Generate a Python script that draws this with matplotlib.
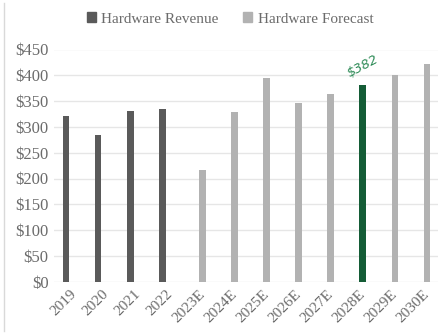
import matplotlib
matplotlib.use("Agg")
import matplotlib.pyplot as plt
import numpy as np
from matplotlib.lines import Line2D
from matplotlib.patches import Patch

years = ["2019", "2020", "2021", "2022", "2023E", "2024E", "2025E",
         "2026E", "2027E", "2028E", "2029E", "2030E"]
revenue = [322, 284, 330, 334, None, None, None, None, None, None, None, None]
forecast = [None, None, None, None, 217, 328, 394, 346, 363, 382, 401, 421]
highlight_year = "2028E"
highlight_label = "$382"
y_ticks = [0, 50, 100, 150, 200, 250, 300, 350, 400, 450]

rev_color = "#5a5a5a"
fc_color = "#b2b2b2"
hl_color = "#145c36"
text_color = "#6b6b6b"

plt.rcParams["font.family"] = ["Liberation Serif", "DejaVu Serif"]

fig = plt.figure(figsize=(4.39, 3.34), dpi=100)
ax = fig.add_axes([54 / 439, 1 - 281.7 / 334, (439 - 54) / 439, (281.7 - 49.5) / 334])

x = np.arange(len(years))
width = 0.21
off = 0.125

for i, v in enumerate(revenue):
    if v is not None:
        ax.bar(x[i] - off, v, width=width, color=rev_color, zorder=3)
for i, v in enumerate(forecast):
    if v is not None:
        c = hl_color if years[i] == highlight_year else fc_color
        ax.bar(x[i] + off, v, width=width, color=c, zorder=3)

hi = years.index(highlight_year)
ax.text(x[hi] + off, forecast[hi] + 9, highlight_label, color="#2e8b57",
        fontsize=9.5, rotation=28, ha="center", va="bottom",
        family=["DejaVu Sans"], style="italic")

ax.set_xlim(-0.5, len(years) - 0.5)
ax.set_ylim(0, 450)
ax.set_yticks(y_ticks)
ax.set_yticklabels([f"${v}" for v in y_ticks])
ax.set_xticks(x)
ax.set_xticklabels(years, rotation=45, ha="right", rotation_mode="anchor")
ax.tick_params(axis="both", length=0, colors=text_color)
ax.tick_params(axis="y", pad=4, labelsize=12)
ax.tick_params(axis="x", pad=4, labelsize=11)
ax.grid(axis="y", color="#e6e6e6", linewidth=1, zorder=0)
ax.set_axisbelow(True)
for s in ax.spines.values():
    s.set_visible(False)

handles = [Patch(color=rev_color), Patch(color=fc_color)]
fig.legend(handles, ["Hardware Revenue", "Hardware Forecast"],
           loc="center", bbox_to_anchor=(230 / 439, 1 - 19 / 334), ncol=2,
           frameon=False, fontsize=11, labelcolor=text_color,
           handlelength=0.6, handleheight=0.6, handletextpad=0.35,
           columnspacing=1.6)

fig.add_artist(Line2D([4 / 439, 4 / 439], [0.01, 0.99], color="#d9d9d9",
                      linewidth=1, transform=fig.transFigure))

fig.savefig("out.png", dpi=100)
